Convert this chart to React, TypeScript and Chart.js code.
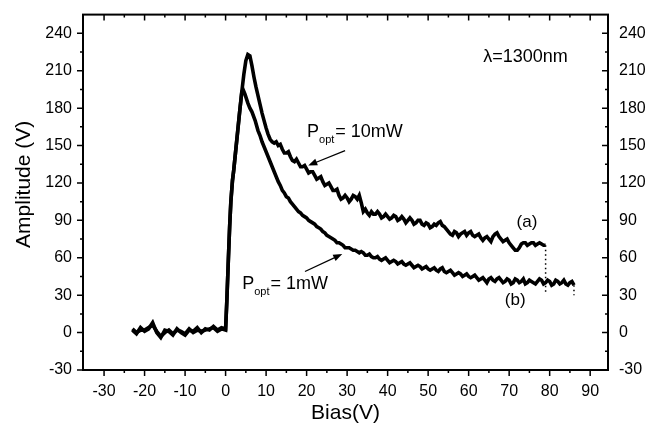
import React, { useEffect, useRef } from 'react';
import { Chart, registerables } from 'chart.js';

Chart.register(...registerables);

const FONT = '"Liberation Sans", Arial, Helvetica, sans-serif';

// Axis ticks
const xTickValues = [-30, -20, -10, 0, 10, 20, 30, 40, 50, 60, 70, 80, 90];
const xMinorValues = [-25, -15, -5, 5, 15, 25, 35, 45, 55, 65, 75, 85];
const yTickValues = [-30, 0, 30, 60, 90, 120, 150, 180, 210, 240];
const yMinorValues = [-15, 15, 45, 75, 105, 135, 165, 195, 225];

// Curve (a): P_opt = 10 mW
const biasA = [
  -23, -22, -21, -20, -19, -18, -17, -16, -15, -14, -13, -12, -11, -10, -9, -8, -7, -6, -5, -4, -3, -2, -1, 0,
  0.3, 0.7, 1, 1.3, 1.7, 2, 2.5, 3, 3.5, 4, 4.5, 5, 5.5, 6, 6.5, 7, 7.5, 8, 8.5, 9, 9.5, 10, 10.5, 11, 11.5, 12, 12.5, 13,
  13.5, 14, 14.5, 15, 15.5, 16, 16.5, 17, 17.5, 18,
  18.5, 19, 19.5, 20, 20.5, 21, 21.5, 22, 22.5, 23,
  23.5, 24, 24.5, 25, 25.5, 26, 26.5, 27, 27.5, 28,
  28.5, 29, 29.5, 30, 30.5, 31, 31.5, 32, 32.5, 33,
  33.5, 34, 34.5, 35, 35.5, 36, 36.5, 37, 37.5, 38,
  38.5, 39, 39.5, 40, 40.5, 41, 41.5, 42, 42.5, 43,
  43.5, 44, 44.5, 45, 45.5, 46, 46.5, 47, 47.5, 48,
  48.5, 49, 49.5, 50, 50.5, 51, 51.5, 52, 52.5, 53,
  53.5, 54, 54.5, 55, 55.5, 56, 56.5, 57, 57.5, 58,
  58.5, 59, 59.5, 60, 60.5, 61, 61.5, 62, 62.5, 63,
  63.5, 64, 64.5, 65, 65.5, 66, 66.5, 67, 67.5, 68,
  68.5, 69, 69.5, 70, 70.5, 71, 71.5, 72, 72.5, 73,
  73.5, 74, 74.5, 75, 75.5, 76, 76.5, 77, 77.5, 78,
  78.5, 79,
];
const ampA = [
  2, -1, 4, 1, 3, 8, 0, -4, 2, 1, -2, 3, 0, -2, 2, 1, 4, 0, 3, 2, 5, 2, 4, 3,
  25, 60, 85, 105, 122, 130, 146, 162, 178, 193, 207, 218, 223, 222, 214, 205, 197, 190, 183, 176, 170, 164, 159, 155, 153, 152, 153, 150,
  151, 147, 144, 144, 145, 141, 138, 137, 139, 136,
  133, 133, 134, 131, 128, 129, 129, 126, 123, 124,
  125, 121, 118, 119, 120, 117, 114, 114, 115, 110,
  107, 108, 110, 108, 105, 107, 110, 109, 107, 110,
  104, 97, 99, 96, 94, 97, 95, 95, 97, 95,
  92, 93, 95, 93, 91, 92, 94, 93, 90, 91,
  93, 91, 88, 90, 92, 90, 87, 88, 90, 90,
  87, 86, 88, 87, 84, 85, 87, 86, 88, 89,
  86, 85, 83, 81, 79, 78, 81, 80, 77, 79,
  80, 81, 78, 80, 81, 78, 77, 78, 79, 76,
  74, 76, 77, 75, 73, 77, 79, 80, 77, 75,
  73, 74, 75, 72, 70, 68, 66, 66, 68, 71,
  72, 72, 70, 71, 72, 72, 70, 71, 72, 71,
  70, 70,
];

// Curve (b): P_opt = 1 mW
const biasB = [
  -23, -22, -21, -20, -19, -18, -17, -16, -15, -14, -13, -12, -11, -10, -9, -8, -7, -6, -5, -4, -3, -2, -1, 0,
  0.3, 0.7, 1, 1.3, 1.7, 2, 2.5, 3, 3.5, 4, 4.3, 4.8, 5.5, 6, 6.5, 7.3, 8, 8.5, 9, 9.5, 10, 11, 12, 13,
  13.5, 14, 14.5, 15, 15.5, 16, 16.5, 17, 17.5, 18,
  18.5, 19, 19.5, 20, 20.5, 21, 21.5, 22, 22.5, 23,
  23.5, 24, 24.5, 25, 25.5, 26, 26.5, 27, 27.5, 28,
  28.5, 29, 29.5, 30, 30.5, 31, 31.5, 32, 32.5, 33,
  33.5, 34, 34.5, 35, 35.5, 36, 36.5, 37, 37.5, 38,
  38.5, 39, 39.5, 40, 40.5, 41, 41.5, 42, 42.5, 43,
  43.5, 44, 44.5, 45, 45.5, 46, 46.5, 47, 47.5, 48,
  48.5, 49, 49.5, 50, 50.5, 51, 51.5, 52, 52.5, 53,
  53.5, 54, 54.5, 55, 55.5, 56, 56.5, 57, 57.5, 58,
  58.5, 59, 59.5, 60, 60.5, 61, 61.5, 62, 62.5, 63,
  63.5, 64, 64.5, 65, 65.5, 66, 66.5, 67, 67.5, 68,
  68.5, 69, 69.5, 70, 70.5, 71, 71.5, 72, 72.5, 73,
  73.5, 74, 74.5, 75, 75.5, 76, 76.5, 77, 77.5, 78,
  78.5, 79, 79.5, 80, 80.5, 81, 81.5, 82, 82.5, 83,
  83.5, 84, 84.5, 85, 85.5, 86,
];
const ampB = [
  3, 0, 2, 2, 4, 6, 1, -3, 0, 2, -1, 2, 1, -1, 3, 0, 2, 1, 2, 3, 4, 1, 3, 2,
  25, 60, 85, 105, 122, 130, 146, 162, 178, 193, 195, 191, 184, 180, 177, 170, 162, 158, 153, 149, 145, 137, 129, 121,
  118, 114, 112, 109, 108, 105, 103, 101, 99, 97,
  96, 94, 93, 92, 90, 89, 88, 87, 85, 84,
  83, 81, 80, 78, 77, 76, 75, 74, 72, 72,
  71, 70, 68, 68, 68, 67, 66, 66, 65, 64,
  65, 64, 62, 62, 63, 61, 60, 60, 61, 59,
  58, 59, 60, 58, 56, 57, 58, 57, 55, 56,
  57, 55, 54, 55, 56, 54, 52, 53, 54, 53,
  51, 52, 53, 51, 50, 51, 52, 50, 49, 51,
  52, 49, 48, 49, 50, 48, 46, 47, 48, 47,
  45, 46, 47, 45, 44, 45, 46, 44, 42, 43,
  44, 42, 40, 43, 44, 42, 41, 43, 44, 42,
  40, 41, 43, 42, 39, 40, 43, 42, 40, 41,
  43, 39, 40, 42, 41, 40, 39, 41, 43, 42,
  39, 40, 42, 41, 38, 39, 42, 41, 39, 40,
  42, 39, 38, 40, 41, 38,
];

// Dotted end drops
const dropBiasA = [79, 79];
const dropAmpA = [70, 31];
const dropBiasB = [86, 86];
const dropAmpB = [38, 30];

const toXY = (xs: number[], ys: number[]) =>
  xs.slice(0, Math.min(xs.length, ys.length)).map((x, i) => ({ x, y: ys[i] }));

export default function App() {
  const ref = useRef<HTMLCanvasElement>(null);

  useEffect(() => {
    if (!ref.current) return;

    const overlay = {
      id: 'overlay',
      afterDraw(chart: any) {
        const { ctx, chartArea: ca, scales } = chart;
        const sx = scales.x;
        const sy = scales.y;
        const X = (v: number) => sx.getPixelForValue(v);
        const Y = (v: number) => sy.getPixelForValue(v);
        ctx.save();
        ctx.strokeStyle = '#000';
        ctx.fillStyle = '#000';
        // frame
        ctx.lineWidth = 2;
        ctx.strokeRect(ca.left, ca.top, ca.right - ca.left, ca.bottom - ca.top);
        // ticks
        ctx.lineWidth = 1.5;
        ctx.beginPath();
        xTickValues.forEach((v) => {
          const p = X(v);
          ctx.moveTo(p, ca.bottom); ctx.lineTo(p, ca.bottom + 6);
          ctx.moveTo(p, ca.top); ctx.lineTo(p, ca.top + 6);
        });
        xMinorValues.forEach((v) => {
          const p = X(v);
          ctx.moveTo(p, ca.bottom); ctx.lineTo(p, ca.bottom + 3);
          ctx.moveTo(p, ca.top); ctx.lineTo(p, ca.top + 3);
        });
        yTickValues.forEach((v) => {
          const p = Y(v);
          ctx.moveTo(ca.left, p); ctx.lineTo(ca.left - 6, p);
          ctx.moveTo(ca.right, p); ctx.lineTo(ca.right - 6, p);
        });
        yMinorValues.forEach((v) => {
          const p = Y(v);
          ctx.moveTo(ca.left, p); ctx.lineTo(ca.left - 3, p);
          ctx.moveTo(ca.right, p); ctx.lineTo(ca.right - 3, p);
        });
        ctx.stroke();

        // y-axis title
        ctx.save();
        ctx.translate(24, (ca.top + ca.bottom) / 2 - 8);
        ctx.rotate(-Math.PI / 2);
        ctx.font = `21px ${FONT}`;
        ctx.textAlign = 'center';
        ctx.textBaseline = 'middle';
        ctx.fillText('Amplitude (V)', 0, 0);
        ctx.restore();

        // annotations
        ctx.textAlign = 'left';
        ctx.textBaseline = 'alphabetic';
        ctx.font = `18px ${FONT}`;
        ctx.fillText('λ=1300nm', X(63.6), Y(217));

        const popt = (x: number, y: number, rest: string) => {
          let px = X(x);
          const py = Y(y);
          ctx.font = `18px ${FONT}`;
          ctx.fillText('P', px, py);
          px += ctx.measureText('P').width;
          ctx.font = `11px ${FONT}`;
          ctx.fillText('opt', px, py + 6);
          px += ctx.measureText('opt').width + 1;
          ctx.font = `18px ${FONT}`;
          ctx.fillText(rest, px, py);
        };
        popt(20.1, 157, '= 10mW');
        popt(4.1, 34.7, '= 1mW');

        ctx.font = `17px ${FONT}`;
        ctx.textAlign = 'center';
        ctx.textBaseline = 'middle';
        ctx.fillText('(a)', X(74.4), Y(88.4));
        ctx.fillText('(b)', X(71.5), Y(26));

        const arrow = (x0: number, y0: number, x1: number, y1: number) => {
          const ax = X(x0), ay = Y(y0), bx = X(x1), by = Y(y1);
          const ang = Math.atan2(by - ay, bx - ax);
          ctx.lineWidth = 1.3;
          ctx.beginPath();
          ctx.moveTo(ax, ay);
          ctx.lineTo(bx - 6 * Math.cos(ang), by - 6 * Math.sin(ang));
          ctx.stroke();
          const L = 9, W = 3.5;
          ctx.beginPath();
          ctx.moveTo(bx, by);
          ctx.lineTo(bx - L * Math.cos(ang) + W * Math.sin(ang), by - L * Math.sin(ang) - W * Math.cos(ang));
          ctx.lineTo(bx - L * Math.cos(ang) - W * Math.sin(ang), by - L * Math.sin(ang) + W * Math.cos(ang));
          ctx.closePath();
          ctx.fill();
        };
        arrow(29.5, 146, 20.4, 134);
        arrow(19.6, 49, 28.8, 63);

        ctx.restore();
      },
    };

    const tickFont = { family: FONT, size: 16 };

    const chart = new Chart(ref.current, {
      type: 'scatter',
      data: {
        datasets: [
          {
            label: '(a) Popt = 10mW',
            data: toXY(biasA, ampA),
            showLine: true,
            borderColor: '#000',
            backgroundColor: '#000',
            borderWidth: 3.6,
            pointRadius: 0,
            tension: 0,
          },
          {
            label: '(b) Popt = 1mW',
            data: toXY(biasB, ampB),
            showLine: true,
            borderColor: '#000',
            backgroundColor: '#000',
            borderWidth: 3.6,
            pointRadius: 0,
            tension: 0,
          },
          {
            label: 'drop a',
            data: toXY(dropBiasA, dropAmpA),
            showLine: true,
            borderColor: '#000',
            borderWidth: 1.5,
            borderDash: [1.5, 3],
            pointRadius: 0,
          },
          {
            label: 'drop b',
            data: toXY(dropBiasB, dropAmpB),
            showLine: true,
            borderColor: '#000',
            borderWidth: 1.5,
            borderDash: [1.5, 3],
            pointRadius: 0,
          },
        ],
      },
      options: {
        responsive: false,
        animation: false,
        events: [],
        layout: { padding: { top: 9, left: 0, right: 0, bottom: 0 } },
        plugins: {
          legend: { display: false },
          tooltip: { enabled: false },
        },
        scales: {
          x: {
            type: 'linear',
            position: 'bottom',
            min: -35.2,
            max: 94.4,
            afterBuildTicks: (s: any) => {
              s.ticks = xTickValues.map((v) => ({ value: v }));
            },
            afterFit: (s: any) => {
              s.height = 62;
            },
            ticks: {
              font: tickFont,
              color: '#000',
              padding: 6,
              maxRotation: 0,
              autoSkip: false,
            },
            grid: {
              display: true,
              drawOnChartArea: false,
              drawTicks: true,
              tickLength: 6,
              color: 'rgba(0,0,0,0)',
            },
            border: { display: false },
            title: {
              display: true,
              text: 'Bias(V)',
              color: '#000',
              font: { family: FONT, size: 21 },
              padding: { top: 0, bottom: 6 },
            },
          },
          y: {
            type: 'linear',
            position: 'left',
            min: -30,
            max: 255,
            afterBuildTicks: (s: any) => {
              s.ticks = yTickValues.map((v) => ({ value: v }));
            },
            afterFit: (s: any) => {
              s.width = 83;
            },
            ticks: {
              font: tickFont,
              color: '#000',
              padding: 5,
              autoSkip: false,
            },
            grid: {
              display: true,
              drawOnChartArea: false,
              drawTicks: true,
              tickLength: 6,
              color: 'rgba(0,0,0,0)',
            },
            border: { display: false },
          },
          y2: {
            type: 'linear',
            position: 'right',
            min: -30,
            max: 255,
            afterBuildTicks: (s: any) => {
              s.ticks = yTickValues.map((v) => ({ value: v }));
            },
            afterFit: (s: any) => {
              s.width = 39;
            },
            ticks: {
              font: tickFont,
              color: '#000',
              padding: 3,
              autoSkip: false,
            },
            grid: { display: false },
            border: { display: false },
          },
        },
      },
      plugins: [overlay],
    } as any);

    return () => chart.destroy();
  }, []);

  return (
    <div style={{ position: 'absolute', left: 0, top: 0, width: 647, height: 432, background: '#fff' }}>
      <canvas ref={ref} width={647} height={432} style={{ display: 'block' }} />
    </div>
  );
}
